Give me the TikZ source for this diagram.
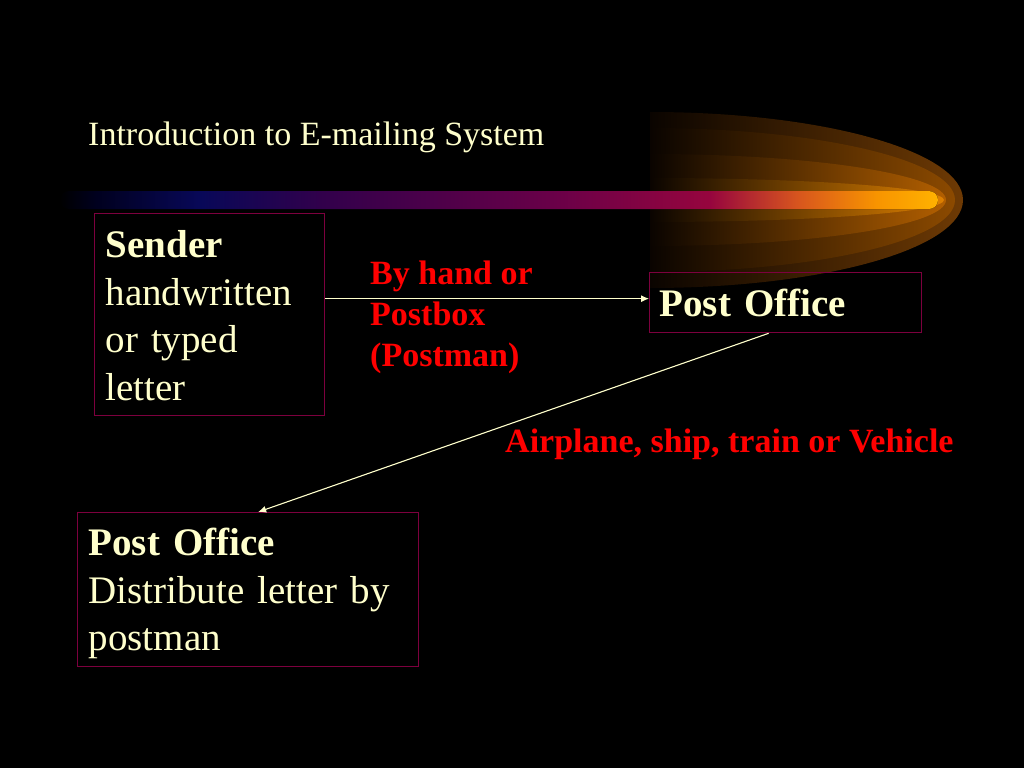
\documentclass[tikz,border=0pt]{standalone}
\usepackage{fontspec}
\setmainfont{Liberation Serif}
\usetikzlibrary{arrows.meta}
\definecolor{cream}{RGB}{255,255,204}
\definecolor{boxline}{RGB}{125,0,62}
\definecolor{lblred}{RGB}{255,0,0}
\definecolor{bnavy}{RGB}{8,8,88}
\definecolor{bpurple}{RGB}{50,0,75}
\definecolor{bmag}{RGB}{105,0,72}
\definecolor{bcrim}{RGB}{150,5,62}
\definecolor{bred}{RGB}{215,85,30}
\definecolor{borange}{RGB}{248,148,0}
\definecolor{byellow}{RGB}{255,178,0}
\definecolor{bdark}{RGB}{0,0,30}
\definecolor{glowA}{RGB}{110,58,4}
\definecolor{glowB}{RGB}{140,74,0}
\definecolor{glowC}{RGB}{178,95,0}
\definecolor{glowD}{RGB}{222,128,0}
\definecolor{glowL}{RGB}{10,4,0}
\pgfdeclarehorizontalshading{barshade}{100bp}{%
  color(0bp)=(black); color(25bp)=(black); color(27bp)=(bdark);
  color(33bp)=(bnavy); color(40bp)=(bpurple); color(53bp)=(bmag);
  color(62bp)=(bcrim); color(67bp)=(bred); color(71.5bp)=(borange);
  color(75bp)=(byellow); color(100bp)=(byellow)}
\tikzset{
  box/.style={draw=boxline, line width=1.3pt, anchor=north west, align=left,
    text=cream, font=\fontsize{39pt}{47.5pt}\selectfont, inner ysep=0pt},
  lbl/.style={text=lblred, font=\bfseries\fontsize{34pt}{41pt}\selectfont, inner sep=0pt, align=left},
  heading/.style={text=cream, font=\fontsize{34pt}{41pt}\selectfont, inner sep=0pt},
  arr/.style={draw=cream, line width=1.1pt, -{Latex[length=8pt,width=7pt]}},
  glow/.style={left color=glowL, middle color=#1!68!black, right color=#1}
}
\begin{document}
\begin{tikzpicture}[x=1pt,y=-1pt]
\fill[black] (0,0) rectangle (1024,768);
\useasboundingbox (0,0) rectangle (1024,768);
% glow layers
\shade[glow=glowA]
  (650,112) .. controls (823,112) and (963,151.4) .. (963,200)
  .. controls (963,248.6) and (823,288) .. (650,288) -- cycle;
\shade[glow=glowB]
  (650,128) .. controls (818,128) and (955,160.2) .. (955,200)
  .. controls (955,239.8) and (818,272) .. (650,272) -- cycle;
\shade[glow=glowC]
  (650,154) .. controls (813,154) and (946,174.6) .. (946,200)
  .. controls (946,225.4) and (813,246) .. (650,246) -- cycle;
\shade[glow=glowD]
  (650,178) .. controls (812,178) and (944,187.8) .. (944,200)
  .. controls (944,212.2) and (812,222) .. (650,222) -- cycle;
% bar
\fill[shading=barshade, rounded corners=9pt] (60,191) rectangle (938,209);
% title
\node[heading, anchor=base west] (title) at (88,145) {Introduction to E-mailing System};
% boxes
\node[box, minimum width=230pt, text width=208pt, inner xsep=11pt, text height=44pt, text depth=158pt]
  (sender) at (94,213) {\textbf{Sender}\\handwritten\\or typed\\letter};
\node[box, minimum width=272pt, text width=252pt, inner xsep=10pt, text height=44pt, text depth=16pt]
  (po1) at (649,272) {\textbf{Post Office}};
\node[box, minimum width=341pt, text width=319pt, inner xsep=11pt, text height=43pt, text depth=111pt]
  (po2) at (77,512) {\textbf{Post Office}\\Distribute letter by\\postman};
% labels
\node[lbl, anchor=north west] (hand) at (370,261) {By hand or\\Postbox\\(Postman)};
\node[lbl, anchor=base west] (air) at (505,452) {Airplane, ship, train or Vehicle};
% connectors
\draw[arr] ([yshift=4pt]sender.east |- po1.west) -- ([yshift=4pt]po1.west);
\draw[arr] ([xshift=-17pt]po1.south) -- ([xshift=10pt]po2.north);
\end{tikzpicture}
\end{document}
